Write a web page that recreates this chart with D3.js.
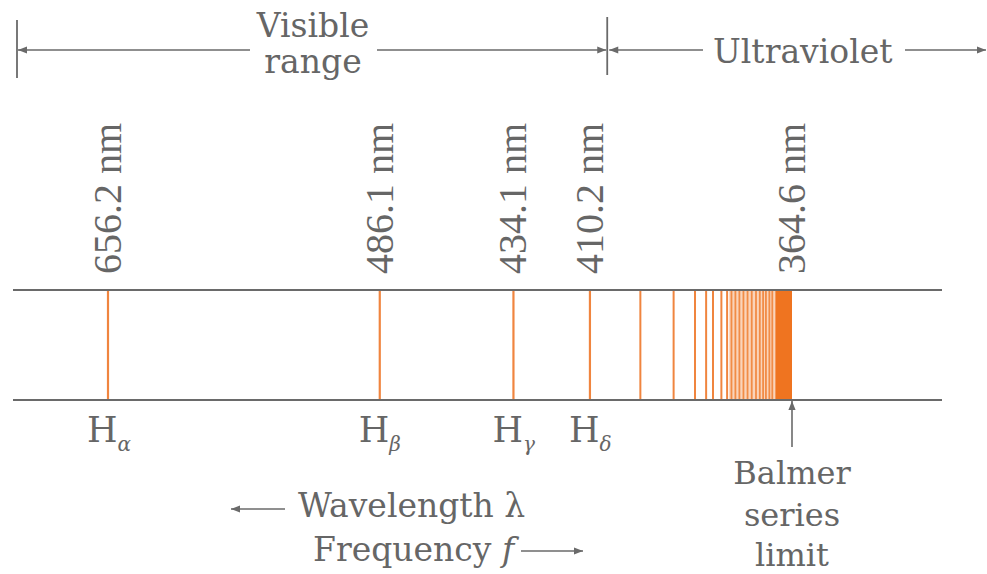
<!DOCTYPE html>
<html>
<head>
<meta charset="utf-8">
<script src="https://cdn.jsdelivr.net/npm/d3@7"></script>
<style>
  body { margin: 0; background: #fff; }
  text { fill: #666; }
</style>
</head>
<body>
<div id="chart"></div>
<script>
var width = 987, height = 574
var bandTop = 290, bandBottom = 400

// wavelengths in nm
var namedLines = [656.2, 486.1, 434.1, 410.2]
var lineSubscripts = ["α", "β", "γ", "δ"]
var seriesLimit = 364.6
var tickLabels = ["656.2 nm", "486.1 nm", "434.1 nm", "410.2 nm", "364.6 nm"]
// unlabelled lines
var higherLines = [396.4, 388.1, 383.1, 380.6, 379.1, 377.3, 376.1]
var crowdedLines = [375.2, 374.4, 373.6, 372.8, 372.0, 371.2, 370.4, 369.7, 369.1, 368.6, 368.0, 367.5]
var mergedFrom = 367.0
var visibleEdge = 405.3

var grey = "#6a6a6a", orange = "#f0853f", deep = "#ef7420"

var svg = d3.select("#chart")
  .append("svg")
  .attr("width", width)
  .attr("height", height)

var defs = svg.append("defs")
defs.append("marker")
  .attr("id", "head")
  .attr("viewBox", "0 -5 10 10")
  .attr("markerUnits", "userSpaceOnUse")
  .attr("markerWidth", 11)
  .attr("markerHeight", 9)
  .attr("refX", 10)
  .attr("refY", 0)
  .attr("orient", "auto")
  .append("path")
  .attr("d", "M0,-4L10,0L0,4Z")
  .attr("fill", grey)

// distance from the series limit, 0 at the limit
function fromLimit(w) { return 1 - seriesLimit / w }

var x = d3.scalePow()
  .exponent(0.88)
  .domain([0, fromLimit(namedLines[0])])
  .range([792, 108])

function px(w) { return x(fromLimit(w)) }

// crowded part of the series
svg.append("rect")
  .attr("x", px(higherLines[higherLines.length - 1]) + 2)
  .attr("y", bandTop)
  .attr("width", px(mergedFrom) - px(higherLines[higherLines.length - 1]) - 2)
  .attr("height", bandBottom - bandTop)
  .attr("fill", "#f6b88c")
  .attr("opacity", 0.6)

svg.selectAll(".crowd")
  .data(crowdedLines)
  .enter()
  .append("line")
  .attr("class", "crowd")
  .attr("x1", px).attr("x2", px)
  .attr("y1", bandTop).attr("y2", bandBottom)
  .attr("stroke", deep)
  .attr("stroke-width", 1.8)
  .attr("opacity", 0.75)

svg.append("rect")
  .attr("x", px(mergedFrom))
  .attr("y", bandTop)
  .attr("width", px(seriesLimit) - px(mergedFrom))
  .attr("height", bandBottom - bandTop)
  .attr("fill", deep)

svg.selectAll(".higher")
  .data(higherLines)
  .enter()
  .append("line")
  .attr("class", "higher")
  .attr("x1", px).attr("x2", px)
  .attr("y1", bandTop).attr("y2", bandBottom)
  .attr("stroke", orange)
  .attr("stroke-width", 2)

svg.selectAll(".named")
  .data(namedLines)
  .enter()
  .append("line")
  .attr("class", "named")
  .attr("x1", px).attr("x2", px)
  .attr("y1", bandTop).attr("y2", bandBottom)
  .attr("stroke", orange)
  .attr("stroke-width", 2.2)

// rules above and below the spectrum
;[bandTop, bandBottom].forEach(function(y) {
  svg.append("line")
    .attr("x1", 13).attr("x2", 942)
    .attr("y1", y).attr("y2", y)
    .attr("stroke", grey)
    .attr("stroke-width", 1.8)
})

// rotated wavelength labels
svg.selectAll(".tick-label")
  .data(namedLines.concat([seriesLimit]))
  .enter()
  .append("text")
  .attr("class", "tick-label")
  .attr("transform", function(d) { return "translate(" + (px(d) + 13) + ",274) rotate(-90)" })
  .attr("font-family", "Liberation Serif, serif")
  .attr("font-size", 40)
  .text(function(d, i) { return tickLabels[i] })

// H alpha ... H delta
var hl = svg.selectAll(".hname")
  .data(namedLines)
  .enter()
  .append("text")
  .attr("class", "hname")
  .attr("x", function(d) { return px(d) - 21 })
  .attr("y", 442)
  .attr("font-family", "DejaVu Serif, serif")
  .attr("font-size", 35)
hl.append("tspan").text("H")
hl.append("tspan")
  .attr("dy", 9)
  .attr("font-size", 20)
  .attr("font-style", "italic")
  .text(function(d, i) { return lineSubscripts[i] })

function arrow(x1, y1, x2, y2) {
  svg.append("line")
    .attr("x1", x1).attr("y1", y1)
    .attr("x2", x2).attr("y2", y2)
    .attr("stroke", grey)
    .attr("stroke-width", 1.6)
    .attr("marker-end", "url(#head)")
}
function bar(xp, y1, y2) {
  svg.append("line")
    .attr("x1", xp).attr("x2", xp)
    .attr("y1", y1).attr("y2", y2)
    .attr("stroke", grey)
    .attr("stroke-width", 1.8)
}
function label(t, xp, y, anchor) {
  return svg.append("text")
    .attr("x", xp).attr("y", y)
    .attr("text-anchor", anchor || "middle")
    .attr("font-family", "DejaVu Serif, serif")
    .attr("font-size", 33)
    .text(t)
}

// visible / ultraviolet brackets
var edge = px(visibleEdge)
bar(17, 20, 78)
arrow(250, 50, 18, 50)
arrow(377, 50, edge - 1, 50)
bar(edge, 17, 75)
arrow(703, 50, edge + 2, 50)
arrow(905, 50, 986, 50)
label("Visible", 313, 37)
label("range", 313, 73)
label("Ultraviolet", 713, 63, "start")

// direction of wavelength and frequency
arrow(285, 509, 231, 509)
label("Wavelength λ", 298, 517, "start")
var fq = label("Frequency ", 313, 561, "start")
fq.append("tspan").attr("font-style", "italic").text("f")
arrow(521, 551, 583, 551)

// series limit
arrow(px(seriesLimit), 447, px(seriesLimit), 401)
label("Balmer", px(seriesLimit), 484).attr("font-size", 32)
label("series", px(seriesLimit), 526).attr("font-size", 32)
label("limit", px(seriesLimit), 566).attr("font-size", 32)
</script>
</body>
</html>
